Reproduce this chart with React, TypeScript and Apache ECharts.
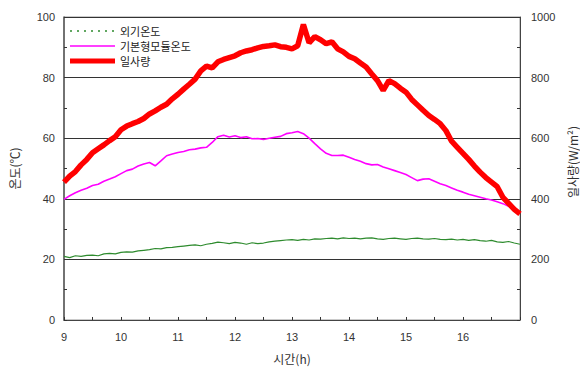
import React, { useEffect, useRef } from "react";
import * as echarts from "echarts";

const TIMES = [
  9.0, 9.1, 9.2, 9.3, 9.4, 9.5, 9.6, 9.7, 9.8, 9.9,
  10.0, 10.1, 10.2, 10.3, 10.4, 10.5, 10.6, 10.7, 10.8, 10.9,
  11.0, 11.1, 11.2, 11.3, 11.4, 11.5, 11.6, 11.7, 11.8, 11.9,
  12.0, 12.1, 12.2, 12.3, 12.4, 12.5, 12.6, 12.7, 12.8, 12.9,
  13.0, 13.1, 13.2, 13.3, 13.4, 13.5, 13.6, 13.7, 13.8, 13.9,
  14.0, 14.1, 14.2, 14.3, 14.4, 14.5, 14.6, 14.7, 14.8, 14.9,
  15.0, 15.1, 15.2, 15.3, 15.4, 15.5, 15.6, 15.7, 15.8, 15.9,
  16.0, 16.1, 16.2, 16.3, 16.4, 16.5, 16.6, 16.7, 16.8, 16.9,
  17.0,
];

// 외기온도 (°C)
const AMBIENT = [
  21.0, 20.6, 21.2, 21.0, 21.3, 21.4, 21.2, 21.8, 22.0, 21.8,
  22.3, 22.5, 22.4, 22.8, 23.0, 23.2, 23.6, 23.5, 23.9, 24.0,
  24.2, 24.4, 24.6, 24.8, 24.5, 25.0, 25.3, 25.7, 25.5, 25.2,
  25.6, 25.4, 25.0, 25.5, 25.2, 25.4, 25.8, 26.0, 26.2, 26.4,
  26.5, 26.3, 26.6, 26.4, 26.8, 26.7, 26.9, 27.0, 26.8, 27.1,
  26.9, 27.0, 26.8, 27.0, 27.1, 26.8, 26.6, 26.9, 27.0, 26.8,
  26.6, 26.9, 27.0, 26.8, 26.7, 26.9, 26.6, 26.5, 26.7, 26.4,
  26.6, 26.3, 26.5, 26.2, 26.0, 26.3, 25.8, 25.6, 25.9, 25.4,
  25.0,
];

// 기본형모듈온도 (°C)
const MODULE = [
  39.8, 41.0, 42.0, 42.8, 43.5, 44.4, 44.8, 45.8, 46.5, 47.3,
  48.3, 49.3, 49.8, 50.8, 51.5, 52.0, 50.9, 52.5, 54.2, 54.8,
  55.3, 55.6, 56.2, 56.4, 56.8, 57.0, 58.6, 60.5, 61.0, 60.4,
  60.8, 60.2, 60.5, 59.8, 59.9, 59.6, 60.0, 60.3, 60.6, 61.5,
  61.8, 62.2, 61.5, 60.0, 58.2, 56.5, 55.0, 54.3, 54.3, 54.4,
  53.7, 53.0, 52.4, 51.6, 51.2, 51.3, 50.5, 49.9, 49.3, 48.7,
  48.0, 47.0, 46.0, 46.5, 46.6, 45.8, 45.0, 44.4, 43.6, 42.8,
  42.2, 41.5, 41.0, 40.5, 40.0, 39.6, 39.0, 38.4, 37.5, 36.5,
  35.2,
];

// 일사량 (W/m²)
const IRRADIANCE = [
  455, 475, 490, 512, 530, 552, 565, 578, 592, 605,
  628, 640, 648, 655, 665, 680, 690, 702, 712, 730,
  745, 762, 778, 795, 822, 838, 832, 852, 860, 866,
  872, 882, 888, 892, 898, 903, 905, 908, 902, 900,
  895, 905, 975, 915, 935, 925, 912, 918, 895, 885,
  870, 862, 848, 835, 812, 790, 758, 790, 780, 765,
  752, 728, 710, 692, 675, 662, 648, 625, 590, 570,
  550, 530, 508, 488, 470, 455, 440, 405, 385, 365,
  350,
];

const LEGEND_LABELS = ["외기온도", "기본형모듈온도", "일사량"];
const COLORS = ["#2e8b2e", "#ff00ff", "#ff0000"];

const FONT = "'Liberation Sans', 'Noto Sans CJK KR', sans-serif";
const KFONT = "'Noto Sans CJK KR', 'Liberation Sans', sans-serif";

export default function App() {
  const ref = useRef<HTMLDivElement>(null);

  useEffect(() => {
    document.body.style.margin = "0";
    const chart = echarts.init(ref.current!, null, { renderer: "svg" });
    const pair = (ys: number[]) => TIMES.map((t, i) => [t, ys[i]]);

    const tickStyle = { color: "#333", width: 1 };
    const legendText = (label: string, y: number) => ({
      type: "text",
      x: 120,
      y,
      style: {
        text: label,
        fontFamily: KFONT,
        fontSize: 11,
        lineHeight: 12,
        fill: "#222",
        verticalAlign: "middle",
      },
    });
    chart.setOption({
      animation: false,
      backgroundColor: "#fff",
      grid: {
        left: 64,
        right: 60,
        top: 17,
        bottom: 47,
        show: true,
        borderColor: "#999",
        borderWidth: 1,
        backgroundColor: "transparent",
      },
      xAxis: {
        type: "value",
        min: 9,
        max: 17,
        interval: 1,
        name: "시간(h)",
        nameLocation: "middle",
        nameGap: 32,
        nameTextStyle: { fontFamily: KFONT, fontSize: 12, color: "#333" },
        axisLine: { show: true, onZero: false, lineStyle: { color: "#444", width: 1 } },
        axisTick: { show: true, inside: true, length: 3, lineStyle: tickStyle },
        minorTick: { show: true, splitNumber: 2, length: 3, lineStyle: tickStyle },
        axisLabel: {
          fontFamily: FONT,
          fontSize: 11,
          color: "#333",
          margin: 12,
          formatter: (v: number) => (v === 17 ? "" : String(v)),
        },
        splitLine: { show: false },
      },
      yAxis: [
        {
          type: "value",
          min: 0,
          max: 100,
          interval: 20,
          name: "온도(℃)",
          nameLocation: "middle",
          nameGap: 44,
          nameTextStyle: { fontFamily: KFONT, fontSize: 12, color: "#333" },
          axisLine: { show: true, lineStyle: { color: "#555", width: 1.5 } },
          axisTick: { show: true, inside: true, length: 3, lineStyle: tickStyle },
          minorTick: { show: true, splitNumber: 2, length: 3, lineStyle: tickStyle },
          axisLabel: { fontFamily: FONT, fontSize: 11, color: "#333", margin: 9, formatter: (v: number) => String(v) },
          splitLine: { show: true, lineStyle: { color: "#333", width: 1 } },
        },
        {
          type: "value",
          min: 0,
          max: 1000,
          interval: 200,
          position: "right",
          axisLine: { show: true, lineStyle: { color: "#444", width: 1 } },
          axisTick: { show: true, inside: true, length: 3, lineStyle: tickStyle },
          minorTick: { show: true, splitNumber: 2, length: 3, lineStyle: tickStyle },
          axisLabel: { fontFamily: FONT, fontSize: 11, color: "#333", margin: 11, formatter: (v: number) => String(v) },
          splitLine: { show: false },
        },
      ],
      graphic: [
        {
          type: "text",
          x: 572,
          y: 162,
          rotation: Math.PI / 2,
          style: {
            text: "일사량(W/m²)",
            fontFamily: KFONT,
            fontSize: 12,
            fill: "#333",
            align: "center",
            verticalAlign: "middle",
          },
        },
        {
          type: "line",
          shape: { x1: 70, y1: 31, x2: 115, y2: 31 },
          style: { stroke: COLORS[0], lineWidth: 1.5, lineDash: [2, 5] },
        },
        legendText(LEGEND_LABELS[0], 31),
        {
          type: "line",
          shape: { x1: 70, y1: 46, x2: 115, y2: 46 },
          style: { stroke: COLORS[1], lineWidth: 1.5 },
        },
        legendText(LEGEND_LABELS[1], 46),
        {
          type: "line",
          shape: { x1: 70, y1: 61, x2: 115, y2: 61 },
          style: { stroke: COLORS[2], lineWidth: 5 },
        },
        legendText(LEGEND_LABELS[2], 61),
      ],
      series: [
        {
          name: LEGEND_LABELS[0],
          type: "line",
          yAxisIndex: 0,
          data: pair(AMBIENT),
          showSymbol: false,
          lineStyle: { color: COLORS[0], width: 1.2 },
        },
        {
          name: LEGEND_LABELS[1],
          type: "line",
          yAxisIndex: 0,
          data: pair(MODULE),
          showSymbol: false,
          lineStyle: { color: COLORS[1], width: 1.6 },
        },
        {
          name: LEGEND_LABELS[2],
          type: "line",
          yAxisIndex: 1,
          data: pair(IRRADIANCE),
          showSymbol: false,
          lineStyle: { color: COLORS[2], width: 5.5 },
        },
      ],
    });
    return () => chart.dispose();
  }, []);

  return <div ref={ref} style={{ width: 580, height: 369 }} />;
}
